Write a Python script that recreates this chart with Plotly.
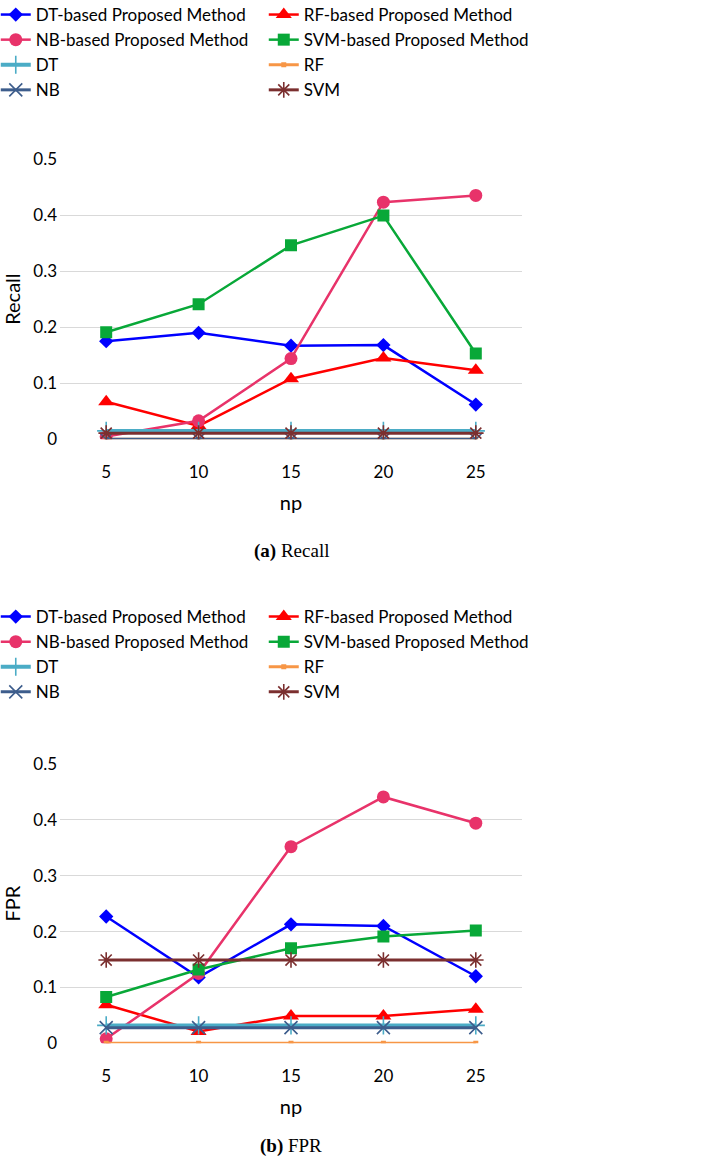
import plotly.graph_objects as go

np_values = ["5", "10", "15", "20", "25"]

names = ["DT-based Proposed Method", "RF-based Proposed Method",
         "NB-based Proposed Method", "SVM-based Proposed Method",
         "DT", "RF", "NB", "SVM"]

recall_dt_prop = [0.175, 0.190, 0.167, 0.168, 0.062]
recall_rf_prop = [0.067, 0.024, 0.108, 0.145, 0.123]
recall_nb_prop = [0.005, 0.033, 0.144, 0.423, 0.435]
recall_svm_prop = [0.191, 0.241, 0.346, 0.399, 0.153]
recall_dt = [0.015, 0.015, 0.015, 0.015, 0.015]
recall_rf = [0.0, 0.0, 0.0, 0.0, 0.0]
recall_nb = [0.0, 0.0, 0.0, 0.0, 0.0]
recall_svm = [0.011, 0.011, 0.011, 0.011, 0.011]

fpr_dt_prop = [0.227, 0.118, 0.213, 0.210, 0.120]
fpr_rf_prop = [0.069, 0.021, 0.049, 0.049, 0.061]
fpr_nb_prop = [0.008, 0.125, 0.352, 0.441, 0.394]
fpr_svm_prop = [0.083, 0.132, 0.170, 0.191, 0.202]
fpr_dt = [0.032, 0.032, 0.032, 0.032, 0.032]
fpr_rf = [0.0, 0.0, 0.0, 0.0, 0.0]
fpr_nb = [0.028, 0.028, 0.028, 0.028, 0.028]
fpr_svm = [0.149, 0.149, 0.149, 0.149, 0.149]

recall_series = [recall_dt_prop, recall_rf_prop, recall_nb_prop, recall_svm_prop,
                 recall_dt, recall_rf, recall_nb, recall_svm]
fpr_series = [fpr_dt_prop, fpr_rf_prop, fpr_nb_prop, fpr_svm_prop,
              fpr_dt, fpr_rf, fpr_nb, fpr_svm]

colors = ["#0000ff", "#ff0000", "#e8336a", "#08a838",
          "#4bacc6", "#f79646", "#3d5d8c", "#7b2f2f"]
symbols = ["diamond", "triangle-up", "circle", "square",
           "cross-thin-open", "square", "x-thin-open", "asterisk-open"]
msizes = [11, 14, 13, 12, 13, 5, 13, 13]
lwidths = [2.5, 2.5, 2.5, 2.5, 4, 3, 3, 3]

W, H = 710, 1158
fig = go.Figure()

for panel, (series, xa, ya, lg) in enumerate([
        (recall_series, "x", "y", "legend"),
        (fpr_series, "x2", "y2", "legend2")]):
    for i, name in enumerate(names):
        thin = symbols[i].endswith("open")
        fig.add_trace(go.Scatter(
            x=np_values, y=series[i], name=name, mode="lines+markers",
            xaxis=xa, yaxis=ya, legend=lg,
            line=dict(color=colors[i], width=lwidths[i]),
            marker=dict(symbol=symbols[i], size=msizes[i], color=colors[i],
                        line=dict(color=colors[i], width=1.6 if thin else 0)),
        ))

xdom = [60 / W, 522 / W]
top_dom = [1 - 439.3 / H, 1 - 159 / H]
bot_dom = [1 - 1043.3 / H, 1 - 764 / H]

FONT = "Lato, Liberation Sans, sans-serif"
tick_font = dict(family=FONT, size=17, color="#000000")
title_font = dict(family=FONT, size=20, color="#000000")
leg_font = dict(family=FONT, size=17, color="#000000")

common_x = dict(type="category", range=[-0.5, 4.5], showgrid=False,
                showline=False, zeroline=False,
                ticks="", tickfont=tick_font, ticklabelstandoff=21,
                title=dict(text="np", font=title_font, standoff=14))
common_y = dict(range=[0, 0.5], showgrid=True, gridcolor="#d9d9d9",
                gridwidth=1, zeroline=False, showline=False, ticks="",
                tickfont=tick_font, tickvals=[0, 0.1, 0.2, 0.3, 0.4, 0.5],
                ticktext=["0", "0.1", "0.2", "0.3", "0.4", "0.5"],
                ticklabelstandoff=2)

leg_common = dict(orientation="h", xref="paper", yref="paper",
                  xanchor="center", yanchor="top", entrywidth=223,
                  font=leg_font, itemwidth=30, bgcolor="rgba(0,0,0,0)",
                  traceorder="normal")

fig.update_layout(
    width=W, height=H,
    margin=dict(l=0, r=0, t=0, b=0, autoexpand=False),
    paper_bgcolor="white", plot_bgcolor="white", showlegend=True,
    xaxis=dict(domain=xdom, anchor="y", **common_x),
    yaxis=dict(domain=top_dom, anchor="x",
               title=dict(text="Recall", font=title_font, standoff=8), **common_y),
    xaxis2=dict(domain=xdom, anchor="y2", **common_x),
    yaxis2=dict(domain=bot_dom, anchor="x2",
                title=dict(text="FPR", font=title_font, standoff=8), **common_y),
    legend=dict(x=0.3715, y=1 + 3 / H, **leg_common),
    legend2=dict(x=0.3715, y=1 - 599 / H, **leg_common),
    annotations=[
        dict(text="<b>(a)</b> Recall", xref="paper", yref="paper",
             x=(xdom[0] + xdom[1]) / 2, y=1 - 551 / H, xanchor="center",
             yanchor="middle", showarrow=False,
             font=dict(family="Liberation Serif", size=19, color="#000000")),
        dict(text="<b>(b)</b> FPR", xref="paper", yref="paper",
             x=(xdom[0] + xdom[1]) / 2, y=1 - 1146 / H, xanchor="center",
             yanchor="middle", showarrow=False,
             font=dict(family="Liberation Serif", size=19, color="#000000")),
    ],
)

fig.write_html("out.html", config={"displayModeBar": False},
               post_script="document.body.style.margin='0';document.body.style.padding='0';")
